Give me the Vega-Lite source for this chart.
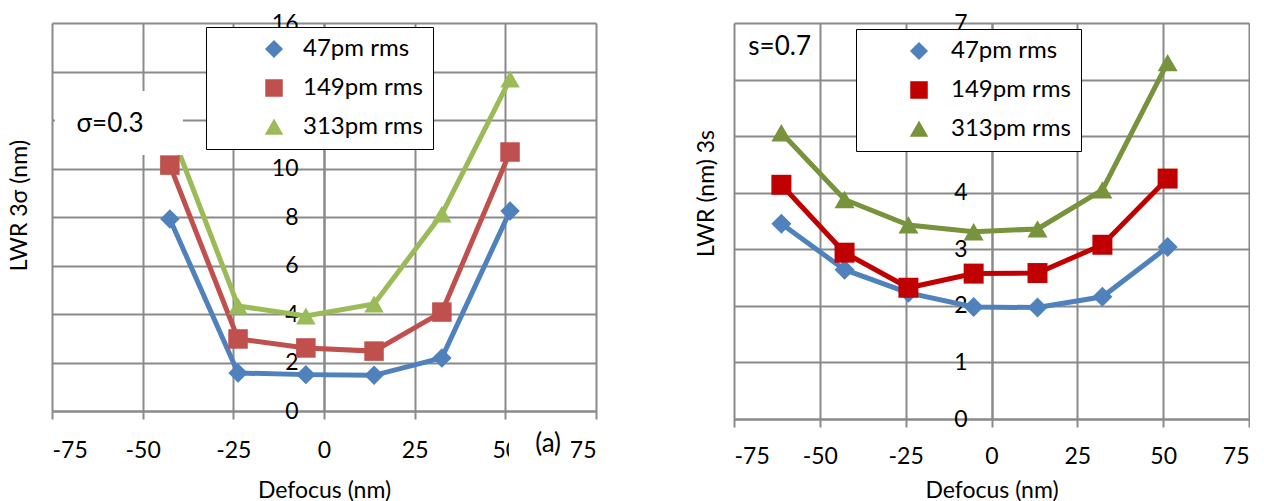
{
  "$schema": "https://vega.github.io/schema/vega-lite/v6.json",
  "background": "white",
  "padding": {"left": 8, "top": 12, "right": 0, "bottom": 0},
  "config": {
    "font": "Lato",
    "view": {"stroke": null},
    "concat": {"spacing": 98},
    "axis": {
      "gridColor": "#8a8a8a", "gridWidth": 2, "gridOpacity": 1,
      "domainColor": "#8a8a8a", "domainWidth": 2,
      "tickColor": "#8a8a8a", "tickWidth": 2,
      "labelColor": "black", "labelFont": "Lato", "labelFontSize": 23,
      "titleColor": "black", "titleFont": "Lato", "titleFontSize": 23, "titleFontWeight": "normal"
    }
  },
  "datasets": {
    "left": [
      {"x": -42.5, "y": 7.92, "series": "47pm rms"},
      {"x": -23.7, "y": 1.57, "series": "47pm rms"},
      {"x": -5.0, "y": 1.5, "series": "47pm rms"},
      {"x": 13.8, "y": 1.47, "series": "47pm rms"},
      {"x": 32.5, "y": 2.19, "series": "47pm rms"},
      {"x": 51.3, "y": 8.25, "series": "47pm rms"},
      {"x": -42.5, "y": 10.14, "series": "149pm rms"},
      {"x": -23.7, "y": 2.97, "series": "149pm rms"},
      {"x": -5.0, "y": 2.6, "series": "149pm rms"},
      {"x": 13.8, "y": 2.47, "series": "149pm rms"},
      {"x": 32.5, "y": 4.08, "series": "149pm rms"},
      {"x": 51.3, "y": 10.68, "series": "149pm rms"},
      {"x": -42.5, "y": 11.65, "series": "313pm rms"},
      {"x": -23.7, "y": 4.33, "series": "313pm rms"},
      {"x": -5.0, "y": 3.92, "series": "313pm rms"},
      {"x": 13.8, "y": 4.41, "series": "313pm rms"},
      {"x": 32.5, "y": 8.12, "series": "313pm rms"},
      {"x": 51.3, "y": 13.69, "series": "313pm rms"}
    ],
    "right": [
      {"x": -61.2, "y": 3.45, "series": "47pm rms"},
      {"x": -42.8, "y": 2.64, "series": "47pm rms"},
      {"x": -24.2, "y": 2.23, "series": "47pm rms"},
      {"x": -5.2, "y": 1.98, "series": "47pm rms"},
      {"x": 13.4, "y": 1.97, "series": "47pm rms"},
      {"x": 32.3, "y": 2.16, "series": "47pm rms"},
      {"x": 51.3, "y": 3.04, "series": "47pm rms"},
      {"x": -61.2, "y": 4.14, "series": "149pm rms"},
      {"x": -42.8, "y": 2.94, "series": "149pm rms"},
      {"x": -24.2, "y": 2.32, "series": "149pm rms"},
      {"x": -5.2, "y": 2.57, "series": "149pm rms"},
      {"x": 13.4, "y": 2.58, "series": "149pm rms"},
      {"x": 32.3, "y": 3.08, "series": "149pm rms"},
      {"x": 51.3, "y": 4.25, "series": "149pm rms"},
      {"x": -61.2, "y": 5.06, "series": "313pm rms"},
      {"x": -42.8, "y": 3.88, "series": "313pm rms"},
      {"x": -24.2, "y": 3.43, "series": "313pm rms"},
      {"x": -5.2, "y": 3.31, "series": "313pm rms"},
      {"x": 13.4, "y": 3.36, "series": "313pm rms"},
      {"x": 32.3, "y": 4.05, "series": "313pm rms"},
      {"x": 51.3, "y": 6.3, "series": "313pm rms"}
    ],
    "boxesL": [
      {"x": -74.2, "x2": -38.9, "y": 10.56, "y2": 13.2},
      {"x": 51.0, "x2": 68.0, "y": -0.9, "y2": -2.3}
    ],
    "notesL": [
      {"x": -59, "y": 11.83, "label": "σ=0.3"},
      {"x": 61.8, "y": -1.36, "label": "(a)"}
    ],
    "notesR": [
      {"x": -61.7, "y": 6.57, "label": "s=0.7"}
    ]
  },
  "hconcat": [
    {
      "width": 544,
      "height": 388,
      "data": {"name": "left"},
      "encoding": {
        "x": {"field": "x", "type": "quantitative", "scale": {"domain": [-75, 75], "nice": false},
          "axis": {"values": [-75, -50, -25, 0, 25, 50, 75], "labelExpr": "toString(datum.value)", "title": "Defocus (nm)", "tickSize": 8, "labelPadding": 20, "titleY": 86, "titleBaseline": "alphabetic"}},
        "y": {"field": "y", "type": "quantitative", "scale": {"domain": [0, 16], "nice": false},
          "axis": {"values": [0, 2, 4, 6, 8, 10, 12, 14, 16], "title": "LWR 3σ (nm)", "offset": -272, "tickSize": 0, "labelPadding": 26, "titleX": -305, "titleY": 182, "titleBaseline": "middle", "titleAngle": -90}}
      },
      "layer": [
        {
          "mark": {"type": "line", "strokeWidth": 5},
          "encoding": {
            "color": {"field": "series", "type": "nominal", "scale": {"domain": ["47pm rms", "149pm rms", "313pm rms"], "range": ["#4F81BD", "#C0504D", "#9BBB59"]}}
          }
        },
        {
          "mark": {"type": "point", "filled": true, "opacity": 1, "size": 380},
          "encoding": {
            "color": {"field": "series", "type": "nominal", "scale": {"domain": ["47pm rms", "149pm rms", "313pm rms"], "range": ["#4F81BD", "#C0504D", "#9BBB59"]},
              "legend": {"title": null, "orient": "none", "legendX": 154, "legendY": 4, "direction": "vertical", "fillColor": "white", "strokeColor": "black", "padding": 10, "symbolSize": 256, "symbolOffset": 46, "labelOffset": 17, "labelFontSize": 24, "labelColor": "black", "rowPadding": 15, "labelLimit": 300,
                "labelExpr": "datum.label + '\u00a0\u00a0\u00a0\u00a0\u00a0\u00a0\u00a0'",
                "encode": {
                  "legend": {"strokeWidth": {"value": 2}},
                  "symbols": {
                    "strokeWidth": {"value": 0},
                    "opacity": {"value": 1}
                  }
                }}},
            "shape": {"field": "series", "type": "nominal", "scale": {"domain": ["47pm rms", "149pm rms", "313pm rms"], "range": ["diamond", "square", "triangle-up"]}}
          }
        },
        {
          "data": {"name": "boxesL"},
          "mark": {"type": "rect", "fill": "white"},
          "encoding": {"x2": {"field": "x2"}, "y2": {"field": "y2"}}
        },
        {
          "data": {"name": "notesL"},
          "mark": {"type": "text", "fontSize": 26, "font": "Lato", "color": "black", "align": "center", "baseline": "middle"},
          "encoding": {"text": {"field": "label"}}
        }
      ]
    },
    {
      "width": 515,
      "height": 396,
      "data": {"name": "right"},
      "encoding": {
        "x": {"field": "x", "type": "quantitative", "scale": {"domain": [-75, 75], "nice": false},
          "axis": {"values": [-75, -50, -25, 0, 25, 50, 75], "labelExpr": "toString(datum.value)", "title": "Defocus (nm)", "tickSize": 8, "labelPadding": 18, "titleY": 78, "titleBaseline": "alphabetic"}},
        "y": {"field": "y", "type": "quantitative", "scale": {"domain": [0, 7], "nice": false},
          "axis": {"values": [0, 1, 2, 3, 4, 5, 6, 7], "title": "LWR (nm) 3s", "offset": -258, "tickSize": 0, "labelPadding": 25, "titleX": -286, "titleY": 170, "titleBaseline": "middle", "titleAngle": -90}}
      },
      "layer": [
        {
          "mark": {"type": "line", "strokeWidth": 5},
          "encoding": {
            "color": {"field": "series", "type": "nominal", "scale": {"domain": ["47pm rms", "149pm rms", "313pm rms"], "range": ["#4F81BD", "#C00000", "#77933C"]}}
          }
        },
        {
          "mark": {"type": "point", "filled": true, "opacity": 1, "size": 400},
          "encoding": {
            "color": {"field": "series", "type": "nominal", "scale": {"domain": ["47pm rms", "149pm rms", "313pm rms"], "range": ["#4F81BD", "#C00000", "#77933C"]},
              "legend": {"title": null, "orient": "none", "legendX": 122, "legendY": 6, "direction": "vertical", "fillColor": "white", "strokeColor": "black", "padding": 10, "symbolSize": 256, "symbolOffset": 41, "labelOffset": 20, "labelFontSize": 24, "labelColor": "black", "rowPadding": 15, "labelLimit": 300,
                "labelExpr": "datum.label + '\u00a0\u00a0\u00a0\u00a0\u00a0\u00a0\u00a0'",
                "encode": {
                  "legend": {"strokeWidth": {"value": 2}},
                  "symbols": {
                    "strokeWidth": {"value": 0},
                    "opacity": {"value": 1}
                  }
                }}},
            "shape": {"field": "series", "type": "nominal", "scale": {"domain": ["47pm rms", "149pm rms", "313pm rms"], "range": ["diamond", "square", "triangle-up"]}}
          }
        },
        {
          "data": {"name": "notesR"},
          "mark": {"type": "text", "fontSize": 26, "font": "Lato", "color": "black", "align": "center", "baseline": "middle"},
          "encoding": {"text": {"field": "label"}}
        }
      ]
    }
  ],
  "resolve": {"scale": {"color": "independent", "shape": "independent"}, "legend": {"color": "independent", "shape": "independent"}}
}
